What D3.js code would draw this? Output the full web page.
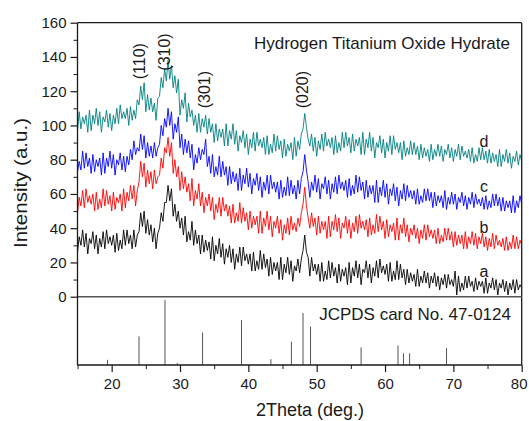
<!DOCTYPE html>
<html><head><meta charset="utf-8">
<script src="https://cdn.jsdelivr.net/npm/d3@7"></script>
<style>
html,body{margin:0;padding:0;background:#ffffff;}
svg{display:block;}
svg text{font-family:"Liberation Sans",Arial,sans-serif;}
</style></head>
<body><svg id="chart" width="529" height="421"></svg>
<script>
// ---- data (2Theta grid: 15 → 80 every 0.25°) ----
const thetaStart = 15, thetaStep = 0.25;
const seriesA = [
26,35,30,39, 29,37,25,34, 31,38,28,36, 25,34,29,38, 28,39,31,35, 30,36,26,37, 27,33,28,39,
30,39,31,36, 28,39,29,36, 38,49,41,50, 37,45,36,42, 32,40,28,37, 40,49,44,55, 55,65,56,63,
47,54,44,50, 40,46,36,47, 32,38,33,44, 30,39,31,36, 25,36,26,33, 27,32,22,35, 21,30,25,34,
23,31,19,28, 23,30,20,28, 16,25,20,29, 18,29,21,25, 19,25,15,26, 15,21,16,27, 16,25,17,22,
12,23,13,20, 15,20,10,23, 10,19,14,23, 13,21,9,18, 15,22,14,22, 27,36,26,23, 12,23,15,19,
13,19,9,20, 9,15,10,21, 11,20,12,17, 8,19,9,16, 12,17,7,20, 8,17,12,21, 11,19,7,16,
14,21,11,19, 8,17,12,21, 11,22,14,18, 13,19,9,20, 9,15,10,21, 10,19,11,16, 7,16,8,14,
9,13,6,16, 6,12,8,15, 8,14,5,12, 8,14,6,12, 4,11,7,13, 5,13,7,10, 6,15,1,12, 3,8,4,12,
5,12,6,9, 3,11,4,9, 6,9,2,11, 2,8,5,11, 4,10,1,8, 5,10,3,9, 1,8,4,10, 2,10,4,7, 5];
const seriesB = [
49,58,53,62, 52,63,55,59, 54,60,50,61, 51,57,52,63, 53,62,54,59, 50,61,51,58, 55,60,50,63,
52,61,56,65, 57,65,53,62, 67,79,70,78, 64,74,66,73, 63,74,66,70, 71,81,75,87, 84,93,82,90,
72,80,70,76, 62,73,63,70, 61,66,56,69, 53,62,57,66, 53,61,49,58, 53,60,50,58, 45,54,49,58,
47,58,50,54, 47,53,43,54, 43,49,44,55, 43,52,44,49, 39,50,40,47, 42,47,37,50, 37,46,41,50,
39,47,35,44, 40,47,37,45, 33,42,37,46, 36,47,39,43, 38,46,41,49, 54,64,53,46, 40,49,41,46,
36,47,37,44, 39,44,34,47, 35,44,39,48, 38,46,34,43, 40,47,37,45, 34,43,38,47, 37,48,40,44,
39,45,35,46, 36,42,37,48, 38,47,39,44, 34,45,35,42, 38,43,33,46, 33,42,37,46, 35,42,32,40,
36,42,34,40, 31,39,34,42, 33,42,35,39, 34,39,31,40, 31,36,32,40, 33,40,33,38, 29,38,30,36,
31,36,28,38, 28,35,31,38, 30,37,28,35, 31,37,29,35, 27,34,29,37, 28,36,30,33, 29,34,27,35,
27,32,28,36, 28,35,28,33, 30];
const seriesC = [
73,79,74,85, 75,84,76,81, 72,83,73,80, 76,81,71,84, 72,81,76,85, 75,83,71,80, 77,84,74,82,
73,82,77,86, 80,91,83,87, 85,95,86,94, 81,90,82,88, 81,90,82,87, 89,100,94,104, 99,110,100,108,
92,101,96,105, 87,95,83,92, 84,91,81,89, 74,83,78,87, 80,86,83,92, 76,82,72,83, 70,76,71,82,
70,79,71,76, 65,76,66,73, 67,72,62,75, 62,71,66,75, 64,72,60,69, 65,72,62,70, 58,67,62,71,
60,71,63,67, 61,67,57,68, 58,64,59,70, 59,68,60,65, 57,68,60,69, 73,83,74,67, 58,67,62,71,
61,69,57,66, 63,70,60,68, 57,66,61,70, 60,71,63,67, 62,68,58,69, 59,65,60,71, 61,70,62,67,
57,68,58,65, 60,65,55,68, 55,64,59,68, 58,66,54,63, 59,66,56,64, 53,62,57,66, 56,65,58,62,
57,62,54,63, 54,59,55,63, 56,63,56,61, 52,61,53,59, 55,59,52,62, 51,58,54,61, 54,60,51,58,
55,61,53,59, 51,58,54,61, 52,60,54,57, 53,58,51,59, 51,56,52,60, 53,60,53,58, 50,58,50,56,
52,56,49,59, 49,56,52,59, 54];
const seriesD = [
97,108,98,105, 101,106,96,109, 97,106,101,110, 100,108,96,105, 102,109,99,107, 97,106,101,110, 101,112,104,108,
104,110,100,111, 103,109,104,115, 112,123,115,125, 108,118,109,116, 108,113,103,116, 117,128,122,133, 126,138,127,135,
122,129,119,127, 106,115,110,119, 102,113,105,109, 100,106,96,107, 96,104,99,106, 95,104,96,101, 90,101,91,98,
93,98,88,101, 88,97,92,101, 89,97,85,94, 90,97,87,95, 83,92,87,96, 85,96,88,92, 87,93,83,94,
83,89,84,95, 85,94,86,91, 81,92,82,89, 85,90,80,93, 82,91,86,95, 98,107,99,92, 88,95,85,93,
82,91,86,95, 85,96,88,92, 87,93,83,94, 84,90,85,96, 87,96,88,93, 84,95,85,92, 88,93,83,96,
83,92,87,96, 85,93,81,90, 87,94,84,92, 81,90,85,94, 83,94,86,90, 84,90,80,91, 82,87,83,91,
83,90,83,88, 80,89,81,87, 82,86,79,89, 80,86,82,89, 82,88,79,86, 83,89,81,87, 79,86,82,89,
80,88,82,85, 81,86,79,87, 78,83,79,87, 80,87,80,85, 78,86,78,84, 79,83,76,86, 76,83,79,86,
78,84,75,82, 79,85,77,83, 79];
const seriesNames = ["a","b","c","d"];
const seriesColors = ["#000000","#ff0000","#0000ff","#008080"];
const labelValues = [11.5, 37.2, 61.1, 87.4];   // intensity at which each letter sits
const peakLabels = ["(110)","(310)","(301)","(020)"];
const peakPos = [24.3, 28.0, 33.8, 48.2];
const peakLabelY = [127, 132, 110, 110];
const stickPos = [19.4, 24.0, 27.8, 29.6, 33.3, 39.0, 43.3, 46.3, 48.0, 49.1, 56.5, 61.9, 62.7, 63.6, 69.0];
const stickInt = [8, 44, 100, 3, 50, 69, 9, 36, 80, 59, 27, 30, 18, 18, 26];
const xTicks = [20, 30, 40, 50, 60, 70, 80];
const xMinor = [15, 25, 35, 45, 55, 65, 75];
const yTicks = [0, 20, 40, 60, 80, 100, 120, 140, 160];
const yMinor = [10, 30, 50, 70, 90, 110, 130, 150];
const titleText = "Hydrogen Titanium Oxide Hydrate";
const cardText = "JCPDS card No. 47-0124";

// ---- layout ----
const svg = d3.select("#chart");
const L = 77.5, R = 521.7, T = 22.7, Z = 296.7, B = 365;
const x = d3.scaleLinear().domain([15, 80]).range([L, R]);
const y = d3.scaleLinear().domain([0, 160]).range([Z, T]);
const y2 = d3.scaleLinear().domain([0, 105]).range([B, Z]);
const FONT = 15, INK = "#1a1a1a";

// curves
const allSeries = [seriesA, seriesB, seriesC, seriesD];
const line = d3.line().x((d, i) => x(thetaStart + i * thetaStep)).y(d => y(d));
svg.append("clipPath").attr("id","cp").append("rect")
  .attr("x", L).attr("y", T).attr("width", R - L).attr("height", Z - T);
allSeries.forEach((s, k) => {
  svg.append("path").datum(s).attr("d", line)
    .attr("fill","none").attr("stroke", seriesColors[k]).attr("stroke-width", 0.9)
    .attr("stroke-linejoin","round").attr("clip-path","url(#cp)");
});

// sticks
svg.append("g").selectAll("line").data(stickPos).join("line")
  .attr("x1", d => x(d)).attr("x2", d => x(d))
  .attr("y1", y2(0)).attr("y2", (d, i) => y2(stickInt[i]))
  .attr("stroke", "#555").attr("stroke-width", 1);

// frame
svg.append("line").attr("x1", L).attr("x2", R).attr("y1", T).attr("y2", T).attr("stroke",INK).attr("stroke-width",1.3);
svg.append("line").attr("x1", R).attr("x2", R).attr("y1", T).attr("y2", B).attr("stroke",INK).attr("stroke-width",1.3);
svg.append("line").attr("x1", L).attr("x2", R).attr("y1", Z).attr("y2", Z).attr("stroke","#555").attr("stroke-width",1.6);

// y axis
const gy = svg.append("g").attr("transform", `translate(${L},0)`)
  .call(d3.axisLeft(y).tickValues(yTicks).tickSize(7).tickPadding(4).tickFormat(d3.format("d")));
gy.select(".domain").remove();
gy.append("line").attr("x1",0).attr("x2",0).attr("y1",T).attr("y2",B).attr("stroke",INK).attr("stroke-width",1.3);
gy.selectAll(".tick line").attr("stroke",INK).attr("stroke-width",1.2);
gy.selectAll(".tick text").attr("font-size", FONT).attr("fill",INK).attr("font-family","'Liberation Sans', Arial, sans-serif");
svg.append("g").attr("transform", `translate(${L},0)`)
  .call(d3.axisLeft(y).tickValues(yMinor).tickSize(4).tickFormat(""))
  .call(g => { g.select(".domain").remove(); g.selectAll("line").attr("stroke",INK); });

// x axis
const gx = svg.append("g").attr("transform", `translate(0,${B})`)
  .call(d3.axisBottom(x).tickValues(xTicks).tickSize(7).tickPadding(6).tickFormat(d3.format("d")));
gx.select(".domain").remove();
gx.append("line").attr("x1",L).attr("x2",R).attr("y1",0).attr("y2",0).attr("stroke",INK).attr("stroke-width",1.3);
gx.selectAll(".tick line").attr("stroke",INK).attr("stroke-width",1.2);
gx.selectAll(".tick text").attr("font-size", FONT).attr("fill",INK).attr("font-family","'Liberation Sans', Arial, sans-serif");
gx.selectAll(".tick text").filter(d => d === 80).attr("dx", -3);
svg.append("g").attr("transform", `translate(0,${B})`)
  .call(d3.axisBottom(x).tickValues(xMinor).tickSize(4).tickFormat(""))
  .call(g => { g.select(".domain").remove(); g.selectAll("line").attr("stroke",INK); });

// axis titles
svg.append("text").attr("transform", `translate(27,183) rotate(-90)`)
  .attr("text-anchor","middle").attr("font-size", 18).attr("fill",INK)
  .attr("textLength", 130).attr("lengthAdjust","spacingAndGlyphs").text("Intensity (a.u.)");
svg.append("text").attr("x", 310).attr("y", 416)
  .attr("text-anchor","middle").attr("font-size", 18).attr("fill",INK).text("2Theta (deg.)");

// annotations
svg.append("text").attr("x", 510).attr("y", 48.5).attr("text-anchor","end")
  .attr("font-size", 17).attr("fill",INK).text(titleText);
svg.append("text").attr("x", 511).attr("y", 320).attr("text-anchor","end")
  .attr("font-size", 17).attr("fill",INK).text(cardText);
seriesNames.forEach((n, i) => {
  svg.append("text").attr("x", 484).attr("y", y(labelValues[i])).attr("text-anchor","middle")
    .attr("font-size", 16).attr("fill",INK).text(n);
});
peakLabels.forEach((p, i) => {
  svg.append("text").attr("transform", `translate(${x(peakPos[i]) + 4},${y(peakLabelY[i])}) rotate(-90)`)
    .attr("text-anchor","start").attr("font-size", 16).attr("fill",INK).text(p);
});
</script></body></html>
